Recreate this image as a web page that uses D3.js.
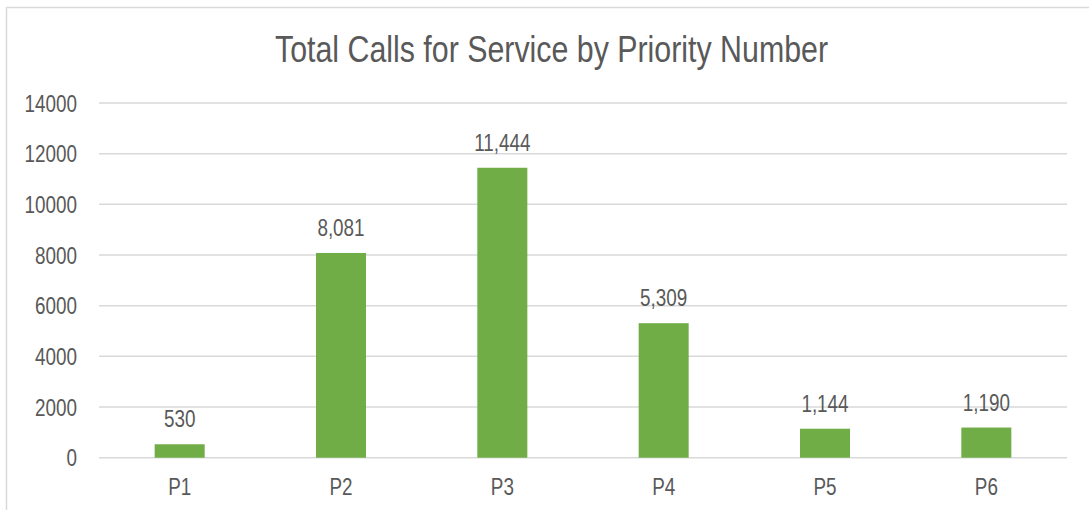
<!DOCTYPE html>
<html>
<head>
<meta charset="utf-8">
<script src="https://cdn.jsdelivr.net/npm/d3@7/dist/d3.min.js"></script>
<style>
  html, body { margin: 0; padding: 0; background: #fff; }
  svg { display: block; }
  text { font-family: "Liberation Sans Narrow", "Arial Narrow", "Liberation Sans", sans-serif; fill: #595959; }
</style>
</head>
<body>
<svg id="chart" width="1089" height="510"></svg>
<script>
const categories = ["P1", "P2", "P3", "P4", "P5", "P6"];
const values = [530, 8081, 11444, 5309, 1144, 1190];
const yTicks = [0, 2000, 4000, 6000, 8000, 10000, 12000, 14000];
const title = "Total Calls for Service by Priority Number";

const svg = d3.select("#chart");
const NARROW = 0.82;

function narrow(sel) {
  sel.each(function () {
    const len = this.getComputedTextLength();
    if (len > 0) {
      d3.select(this).attr("textLength", len * NARROW).attr("lengthAdjust", "spacingAndGlyphs");
    }
  });
}

// chart border
svg.append("rect")
  .attr("x", 6.5).attr("y", 7.5)
  .attr("width", 1100).attr("height", 520)
  .attr("fill", "#fff")
  .attr("stroke", "#D9D9D9").attr("stroke-width", 1.5);

const plot = { left: 99, right: 1067, top: 103, bottom: 457.7 };

const x = d3.scaleBand().domain(categories).range([plot.left, plot.right]).paddingInner(0.69).paddingOuter(0.345);
const y = d3.scaleLinear().domain([0, 14000]).range([plot.bottom, plot.top]);

// gridlines
svg.append("g").selectAll("line").data(yTicks).join("line")
  .attr("x1", plot.left).attr("x2", plot.right)
  .attr("y1", d => y(d)).attr("y2", d => y(d))
  .attr("stroke", "#D9D9D9").attr("stroke-width", 1.5);

// y axis labels
const yAxis = d3.axisLeft(y).tickValues(yTicks).tickFormat(d3.format("d")).tickSize(0).tickPadding(22);
const gy = svg.append("g").attr("transform", `translate(${plot.left},0)`).call(yAxis);
gy.select(".domain").remove();
gy.selectAll("text")
  .attr("fill", "#595959")
  .style("font-size", "23px")
  .attr("dy", "0.36em")
  .call(narrow);

// x axis labels
const xAxis = d3.axisBottom(x).tickSize(0).tickPadding(0);
const gx = svg.append("g").attr("transform", `translate(0,${plot.bottom})`).call(xAxis);
gx.select(".domain").remove();
gx.selectAll("text")
  .attr("fill", "#595959")
  .style("font-size", "23px")
  .attr("dy", null)
  .attr("y", 37.5)
  .call(narrow);

// bars
svg.append("g").selectAll("rect").data(values).join("rect")
  .attr("x", (d, i) => x(categories[i]))
  .attr("width", x.bandwidth())
  .attr("y", d => y(d))
  .attr("height", d => y(0) - y(d))
  .attr("fill", "#70AD47");

// data labels
const fmt = d3.format(",");
svg.append("g").selectAll("text").data(values).join("text")
  .attr("x", (d, i) => x(categories[i]) + x.bandwidth() / 2)
  .attr("y", d => y(d) - 17)
  .attr("text-anchor", "middle")
  .style("font-size", "23px")
  .text(d => fmt(d))
  .call(narrow);

// title
svg.append("text")
  .attr("x", 551.5).attr("y", 61.7)
  .attr("text-anchor", "middle")
  .style("font-size", "37px")
  .attr("textLength", 553)
  .attr("lengthAdjust", "spacingAndGlyphs")
  .text(title);
</script>
</body>
</html>
